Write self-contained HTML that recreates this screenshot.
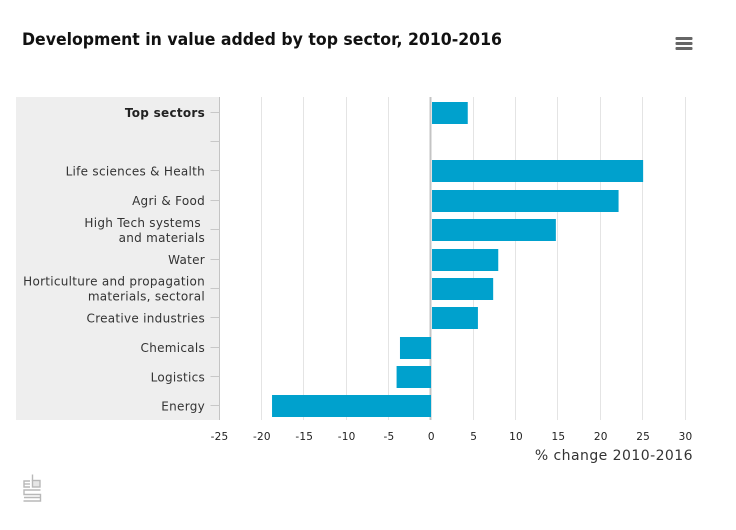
<!DOCTYPE html>
<html lang="en">
<head>
<meta charset="utf-8">
<title>Development in value added by top sector, 2010-2016</title>
<style>
html,body{margin:0;padding:0;background:#fff;width:736px;height:530px;overflow:hidden}
svg{display:block;font-family:"DejaVu Sans","Liberation Sans",sans-serif}
</style>
</head>
<body>
<svg id="chart" width="736" height="530" viewBox="0 0 736 530" xmlns="http://www.w3.org/2000/svg">
  <rect x="0" y="0" width="736" height="530" fill="#ffffff"/>
  <text x="22" y="45" font-size="17" font-weight="bold" fill="#111111" textLength="480" lengthAdjust="spacingAndGlyphs">Development in value added by top sector, 2010-2016</text>
  <g>
    <rect x="675.5" y="37" width="17" height="3" rx="1" fill="#666666"/>
    <rect x="675.5" y="42" width="17" height="3" rx="1" fill="#666666"/>
    <rect x="675.5" y="47" width="17" height="3" rx="1" fill="#666666"/>
  </g>
  <rect x="16" y="97" width="203" height="323" fill="#eeeeee"/>
  <g id="grid"></g>
  <g id="bars"></g>
  <g id="yaxis"></g>
  <g id="xaxis"></g>
  <text x="693" y="460" font-size="14" letter-spacing="0.45" fill="#333333" text-anchor="end">% change 2010-2016</text>
  <g fill="#e6e6e6" stroke="#b8b8b8" stroke-width="1.4">
    <path d="M30 481H24V487H30" fill="none"/>
    <path d="M24 484H30" fill="none"/>
    <rect x="32.5" y="480.5" width="7.5" height="6.5"/>
    <path d="M32.5 474.5V481" fill="none"/>
    <path d="M40.5 490H24V494.5H40.5V501H23.5" fill="none"/>
    <path d="M24 497.5H40.5" fill="none"/>
  </g>
</svg>
<script>
var categories = ["Top sectors", "", "Life sciences & Health", "Agri & Food", "High Tech systems |and materials", "Water", "Horticulture and propagation|materials, sectoral", "Creative industries", "Chemicals", "Logistics", "Energy"];
var seriesValues = [4.3, null, 25, 22.1, 14.7, 7.9, 7.3, 5.5, -3.7, -4.1, -18.8];
var xTickLabels = [-25, -20, -15, -10, -5, 0, 5, 10, 15, 20, 25, 30];

var NS = "http://www.w3.org/2000/svg";
var plotTop = 97, plotBottom = 420, plotLeft = 219.5, plotRight = 685.5;
var xMin = -25, xMax = 30;
function xScale(v) { return plotLeft + (v - xMin) / (xMax - xMin) * (plotRight - plotLeft); }
function bandCenter(i) { return plotTop + (i + 0.5) * (plotBottom - plotTop) / categories.length; }
function make(tag, attrs, parent) {
  var el = document.createElementNS(NS, tag);
  for (var k in attrs) el.setAttribute(k, attrs[k]);
  parent.appendChild(el);
  return el;
}
var grid = document.getElementById("grid");
var bars = document.getElementById("bars");
var yaxis = document.getElementById("yaxis");
var xaxis = document.getElementById("xaxis");

xTickLabels.forEach(function (t) {
  var x = Math.round(xScale(t)) - 0.5;
  var line = make("line", {x1: x, x2: x, y1: plotTop, y2: plotBottom, stroke: t === 0 ? "#c4c4c4" : "#e4e4e4", "stroke-width": t === 0 ? 2 : 1}, grid);
  
  
  var label = make("text", {x: xScale(t), y: 440, "font-size": 10.5, "letter-spacing": 0.2, fill: "#222222", "text-anchor": "middle"}, xaxis);
  label.textContent = String(t);
  
  
});

var barHeight = 22;
seriesValues.forEach(function (v, i) {
  if (v === null) return;
  var x0 = xScale(0) + (v >= 0 ? 0.7 : -0.3);
  var x1 = xScale(v);
  var rect = make("rect", {x: Math.min(x0, x1), y: Math.round(bandCenter(i) + 1 - barHeight / 2), width: Math.abs(x1 - x0), height: barHeight, fill: "#00a1cd"}, bars);
  
  
});

var axisLine = make("line", {x1: plotLeft, x2: plotLeft, y1: plotTop, y2: plotBottom, stroke: "#c4c4c4", "stroke-width": 1}, yaxis);



categories.forEach(function (c, i) {
  var cy = bandCenter(i);
  var tickY = Math.round(cy) + 0.5;
  var tick = make("line", {x1: plotLeft - 9, x2: plotLeft, y1: tickY, y2: tickY, stroke: "#c8c8c8", "stroke-width": 1}, yaxis);
  
  
  if (!c) return;
  var parts = c.split("|");
  var label = make("text", {"font-size": 12, "letter-spacing": 0.28, fill: i === 0 ? "#222222" : "#333333", "font-weight": i === 0 ? "bold" : "normal", "text-anchor": "end"}, yaxis);
  
  
  parts.forEach(function (p, j) {
    var span = make("tspan", {x: 205, y: cy + 5.3 + (j - (parts.length - 1) / 2) * 15}, label);
    span.style.whiteSpace = "pre";
    span.textContent = p;
  });
});
</script>
</body>
</html>
